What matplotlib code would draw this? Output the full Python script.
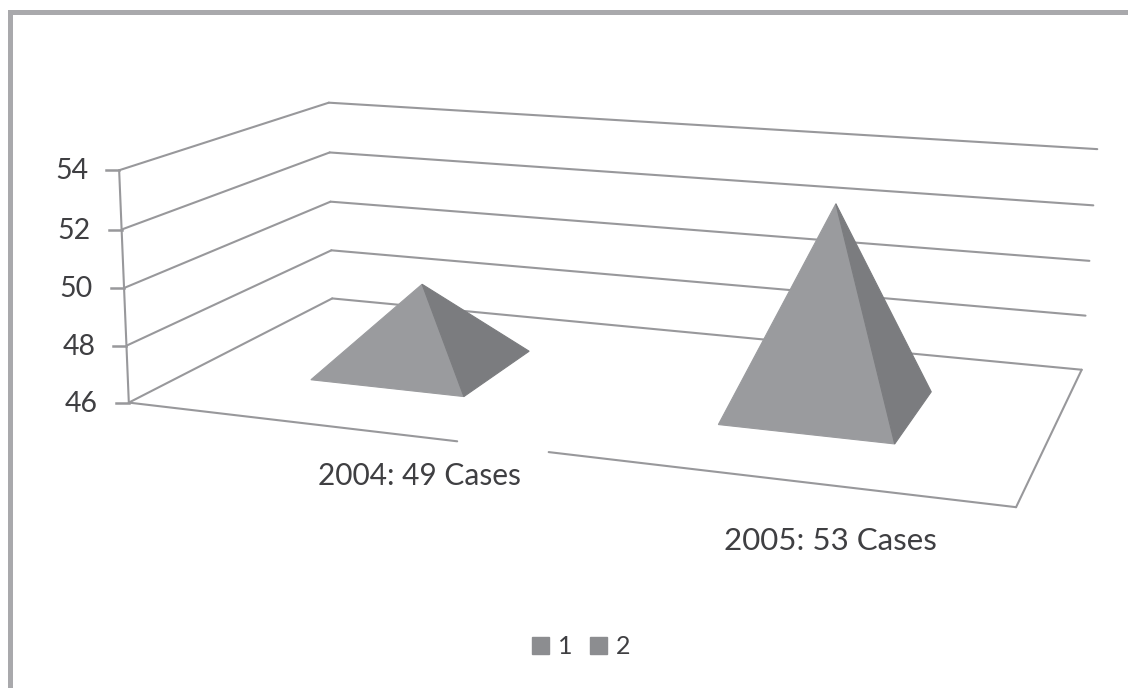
import numpy as np
import matplotlib
matplotlib.use('Agg')
import matplotlib.pyplot as plt
from matplotlib.patches import Patch

plt.rcParams['font.family'] = ['Lato', 'DejaVu Sans']

# chart values
years = ['2004: 49 Cases', '2005: 53 Cases']
cases = [49, 53]
series_names = ['1', '2']
ticks = [46, 48, 50, 52, 54]

W, H = 1128, 688
GRID = '#98989b'
TEXT = '#3f3f42'
LEFT_FACE = '#9a9b9e'
RIGHT_FACE = '#7b7c7f'

# camera of the 3D box, fitted from where the box sits in the picture
# (x across 0-1, d depth 0-1 front to back, v axis value) -> pixels
calib = [
    (0, 0, 46, 130, 403), (0, 0, 54, 118, 170),
    (0, 1, 46, 331, 298), (0, 1, 54, 330, 103),
    (1, 1, 46, 1082, 370), (1, 1, 54, 1097, 149),
    (1, 0, 46, 1016, 507),
]
A = []
for x, d, v, px, py in calib:
    z = (v - 46) / 8
    A.append([x, d, z, 1, 0, 0, 0, 0, -px * x, -px * d, -px * z, -px])
    A.append([0, 0, 0, 0, x, d, z, 1, -py * x, -py * d, -py * z, -py])
P = np.linalg.svd(np.array(A, dtype=float))[2][-1].reshape(3, 4)


def project(x, d, v):
    h = P @ np.array([x, d, (v - 46) / 8, 1.0])
    return h[0] / h[2], h[1] / h[2]


def line3d(ax, a, b, **kw):
    p, q = project(*a), project(*b)
    ax.plot([p[0], q[0]], [p[1], q[1]], color=GRID, lw=1.5, solid_capstyle='round', **kw)


fig = plt.figure(figsize=(W / 100, H / 100), dpi=100)
ax = fig.add_axes([0, 0, 1, 1])
ax.set_xlim(0, W)
ax.set_ylim(H, 0)
ax.axis('off')

# outer frame, only top and left show
ax.plot([9.5, 9.5, W], [H, 11.5, 11.5], color='#a9a9ac', lw=3.6, solid_joinstyle='miter')

# gridlines on the side and back walls
for t in ticks:
    line3d(ax, (0, 0, t), (0, 1, t))
    line3d(ax, (0, 1, t), (1, 1, t))
    p = project(0, 0, t)
    ax.plot([p[0] - 13, p[0]], [p[1], p[1]], color=GRID, lw=1.8)
    ax.text(p[0] - 31, p[1] + 1, str(t), ha='right', va='center', fontsize=20.5, color=TEXT)
line3d(ax, (0, 0, ticks[0]), (0, 0, ticks[-1]))

# floor, front edge is broken behind the 2004 label
line3d(ax, (0, 0, 46), (0.406, 0, 46))
line3d(ax, (0.511, 0, 46), (1, 0, 46))
line3d(ax, (1, 0, 46), (1, 1, 46))

# pyramids
half_x, half_d = 0.098, 0.20
for i, c in enumerate(cases):
    cx = 0.25 + 0.5 * i
    fl = project(cx - half_x, 0.5 - half_d, 46)
    fr = project(cx + half_x, 0.5 - half_d, 46)
    br = project(cx + half_x, 0.5 + half_d, 46)
    top = project(cx, 0.5, c)
    ax.fill(*zip(fl, fr, top), color=LEFT_FACE, lw=0.8, zorder=3)
    ax.fill(*zip(fr, br, top), color=RIGHT_FACE, lw=0.8, zorder=3)

# category labels
ax.text(419.5, 476, years[0], ha='center', va='center', fontsize=21.5, color=TEXT)
ax.text(830, 541, years[1], ha='center', va='center', fontsize=22.5, color=TEXT)

handles = [Patch(color='#8c8d90', label=s) for s in series_names]
ax.legend(handles=handles, loc='center', bbox_to_anchor=(581 / W, 1 - 647 / H), ncol=2,
          frameon=False, fontsize=18, labelcolor=TEXT, handlelength=0.68, handleheight=0.68,
          handletextpad=0.35, columnspacing=0.7)

fig.savefig('out.png', dpi=100)
